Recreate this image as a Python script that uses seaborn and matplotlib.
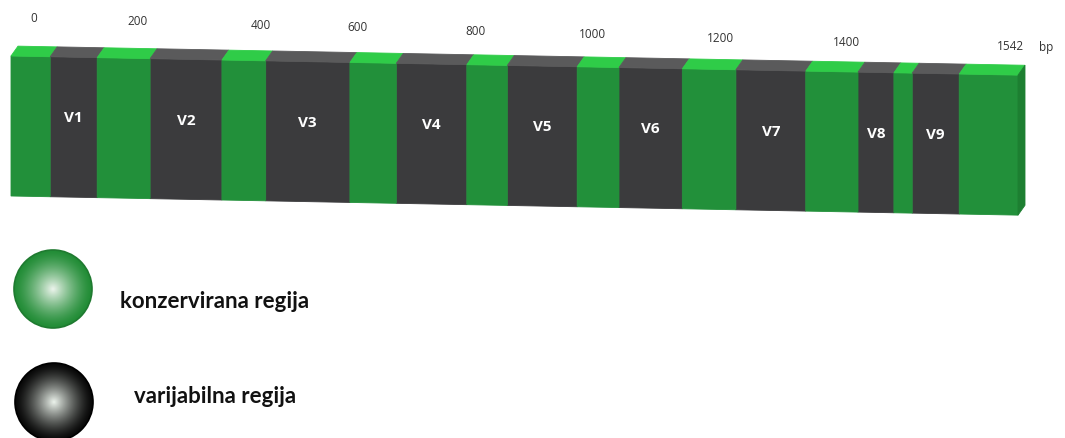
import numpy as np
import pandas as pd
import matplotlib
matplotlib.use("Agg")
import matplotlib.pyplot as plt
import seaborn as sns
from matplotlib.patches import Polygon, Circle
from matplotlib.transforms import Affine2D

sns.set_style("white")

# 16S rRNA schematic: segment boundaries (bp, as drawn), conserved / variable
edges = [0, 60, 132, 213, 323, 390, 519, 590, 698, 760, 867, 931,
         1028, 1110, 1217, 1297, 1352, 1380, 1452, 1542]
kinds = ["konzervirana", "varijabilna"] * 9 + ["konzervirana"]
region_names = ["V1", "V2", "V3", "V4", "V5", "V6", "V7", "V8", "V9"]
# position labels above the bar (where they sit along the bar) and their text
tick_pos = [35, 194, 383, 530, 712, 890, 1087, 1280, 1530]
tick_text = ["0", "200", "400", "600", "800", "1000", "1200", "1400", "1542"]
legend_text = ["konzervirana regija", "varijabilna regija"]

front = {"konzervirana": "#22903a", "varijabilna": "#3b3b3d"}
top = {"konzervirana": "#2fcc48", "varijabilna": "#5a5a5b"}
side_col = "#1d7f31"

df = pd.DataFrame({"start": edges[:-1], "end": edges[1:], "kind": kinds})
df["mid"] = (df.start + df.end) / 2
df["one"] = 1.0

W, H = 1065, 439
fig = plt.figure(figsize=(W / 100, H / 100), dpi=100)
ax = fig.add_axes([0, 0, 1, 1])

sns.histplot(data=df, x="mid", weights="one", bins=edges, hue="kind",
             hue_order=["konzervirana", "varijabilna"], palette=front,
             alpha=1, linewidth=0, edgecolor="none", legend=False, ax=ax)

px = 1542 / 1007.0          # bp per pixel on the front face
x_left = 11                 # pixel where bp 0 sits
ax.set_xlim(-x_left * px, 1542 + (W - 1018) * px)
ax.set_ylim(-242 / 140.0, (H - 242) / 140.0)
ax.axis("off")

s = 0.019
shear = Affine2D.from_values(1, -s, 0, 1, 0, s * x_left)
bar_tr = ax.transData + shear
for p in ax.patches:
    p.set_transform(bar_tr)
    if p.get_height() > 0:
        p.set_edgecolor(p.get_facecolor())
        p.set_linewidth(0.6)

# top and end faces
dx, dy = 7 * px, 10 / 140.0
for _, r in df.iterrows():
    ax.add_patch(Polygon([(r.start, 1), (r.end, 1), (r.end + dx, 1 + dy),
                          (r.start + dx, 1 + dy)], closed=True,
                         fc=top[r.kind], ec=top[r.kind], lw=0.6,
                         transform=bar_tr))
end = edges[-1]
ax.add_patch(Polygon([(end, 0), (end + dx, dy), (end + dx, 1 + dy), (end, 1)],
                     closed=True, fc=side_col, ec=side_col, lw=0.6,
                     transform=bar_tr))

# V labels
var = df[df.kind == "varijabilna"].reset_index(drop=True)
for name, m in zip(region_names, var.mid):
    ax.text(m, 0.57, name, color="white", fontsize=11, fontweight="bold",
            family="Open Sans", ha="center", va="center", transform=bar_tr)

# position labels
s2 = 0.029
lab_tr = ax.transData + Affine2D.from_values(1, -s2, 0, 1, 0, s2 * x_left)
for t, lbl in zip(tick_pos, tick_text):
    ax.text(t, 1.279, lbl, fontsize=8.5, color="#333333", family="Open Sans",
            ha="center", va="center", transform=lab_tr)
ax.text(1585, 1.279, "bp", fontsize=8.5, color="#333333", family="Open Sans",
        ha="center", va="center", transform=lab_tr)

# legend with shaded balls
lax = fig.add_axes([0, 0, 1, 1])
lax.set_xlim(0, W)
lax.set_ylim(H, 0)
lax.axis("off")
lax.patch.set_visible(False)

yy, xx = np.mgrid[-1:1:200j, -1:1:200j]
rr = np.sqrt(xx ** 2 + yy ** 2)
glow = np.clip(1 - rr, 0, 1) ** 1.4
balls = [((53, 290), (0.13, 0.55, 0.21), "#1f7a30"),
         ((54, 403), (0.03, 0.03, 0.03), "#000000")]
for (cx, cy), base, edge_c in balls:
    rad = 39
    img = np.ones((200, 200, 3)) * np.array(base)
    img = img + (np.array([0.93, 0.96, 0.93]) - img) * glow[..., None]
    im = lax.imshow(img, extent=[cx - rad, cx + rad, cy + rad, cy - rad],
                    interpolation="bilinear", zorder=2)
    circ = Circle((cx, cy), rad, transform=lax.transData)
    im.set_clip_path(circ)
    lax.add_patch(Circle((cx, cy), rad, fc="none", ec=edge_c, lw=1.2, zorder=3))

lax.text(120, 302, legend_text[0], fontsize=16, fontweight="bold",
         family="Lato", color="#111111", ha="left", va="center")
lax.text(134, 397, legend_text[1], fontsize=16, fontweight="bold",
         family="Lato", color="#111111", ha="left", va="center")

fig.savefig("out.png", dpi=100)
